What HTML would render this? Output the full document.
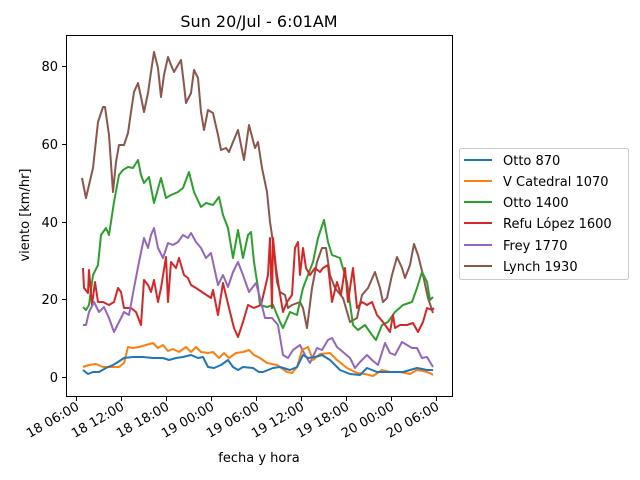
<!DOCTYPE html>
<html><head><meta charset="utf-8"><style>body{margin:0;background:#fff}svg{display:block;font-family:"DejaVu Sans","Liberation Sans",sans-serif}</style></head><body>
<svg width="640" height="480" viewBox="0 0 640 480" xmlns="http://www.w3.org/2000/svg">
<rect width="640" height="480" fill="#fff"/>
<text x="259" y="27" font-size="16" text-anchor="middle">Sun 20/Jul - 6:01AM</text>
<g fill="none" stroke-width="2" stroke-linejoin="round">
<polyline stroke="#8c564b" points="82,178 86,198 89,185 93,168 98,122 103,107 105,107 109,135 113,192 116,162 119,145 124,145 128,133 131,112 134,92 138,83 141,97 144,112 148,93 151,72 154,52 158,68 161,97 164,75 168,57 171,65 174,72 178,65 181,60 184,85 186,103 191,93 194,70 198,78 201,112 204,130 208,110 213,113 218,135 221,150 226,148 229,152 233,142 238,130 241,145 244,160 249,125 255,148 258,142 262,168 267,192 270,222 273,242 277,282 280,292 285,295 288,308 292,305 300,302 303,308 307,328 312,288 317,262 322,248 326,248 330,275 335,288 343,298 350,322 357,318 362,295 368,288 375,272 380,288 383,302 387,298 392,275 397,257 402,268 405,278 410,265 414,244 418,255 423,275 428,298 433,313"/>
<polyline stroke="#2ca02c" points="83,307 86,310 89,305 93,275 98,265 101,235 106,228 109,235 114,202 119,175 123,170 128,167 133,168 138,160 141,175 144,183 149,177 154,203 161,178 166,198 171,195 178,192 183,188 189,172 194,192 201,207 206,203 213,205 219,197 223,215 228,228 233,258 238,230 243,258 248,235 251,232 254,262 258,288 260,305 267,307 273,305 280,322 283,328 290,312 297,315 303,288 313,262 318,238 324,220 328,242 332,255 340,258 347,282 353,325 358,330 365,325 372,335 376,340 382,325 388,322 395,312 403,305 412,302 417,288 422,272 427,282 430,300 433,297"/>
<polyline stroke="#d62728" points="83,268 84,288 88,293 89,270 92,305 95,282 98,302 103,302 109,305 114,302 118,288 121,292 124,308 131,308 136,312 141,325 144,280 148,285 151,292 154,280 158,302 161,288 166,257 168,302 171,262 176,268 179,258 184,275 188,278 191,285 196,288 211,298 213,290 218,315 223,283 229,308 234,328 238,337 243,322 248,305 254,308 261,305 265,288 268,275 270,238 272,308 273,238 276,268 279,288 283,312 287,302 292,295 295,248 298,242 300,275 303,248 306,268 310,275 315,268 320,272 323,268 328,265 332,302 337,282 341,295 345,268 348,302 353,268 357,308 362,302 367,305 372,302 377,315 383,322 390,332 393,315 395,328 400,325 407,325 413,323 418,332 423,322 427,308 432,310 434,308"/>
<polyline stroke="#9467bd" points="83,325 86,325 89,312 94,302 99,312 104,307 109,318 114,332 119,322 124,312 129,315 134,288 139,262 144,238 148,248 151,235 154,228 158,248 163,258 168,243 173,245 178,242 183,235 188,238 191,233 196,242 201,248 206,258 211,253 218,285 223,275 228,287 233,272 238,262 243,275 249,292 256,283 260,298 265,318 272,318 278,325 283,355 288,358 293,350 300,345 305,355 310,363 317,348 322,350 328,340 332,338 337,347 343,352 350,358 355,368 360,362 367,355 372,360 378,365 385,343 390,353 395,355 402,342 407,345 412,348 417,348 422,358 427,357 433,367"/>
<polyline stroke="#ff7f0e" points="83,367 89,365 96,364 103,367 109,367 119,367 124,363 128,347 133,348 139,347 146,345 153,343 158,348 163,345 168,351 173,349 179,352 186,347 191,352 196,347 201,352 208,353 213,352 219,358 224,353 229,358 236,353 243,352 249,350 254,355 260,358 267,363 277,365 287,372 292,373 297,367 302,350 308,347 313,360 320,354 330,353 337,360 347,368 357,373 365,374 373,376 382,370 390,372 400,372 410,374 417,370 423,371 430,373 433,375"/>
<polyline stroke="#1f77b4" points="83,370 88,374 93,372 99,372 106,368 113,365 118,362 124,358 133,357 143,357 153,358 163,358 169,360 176,358 183,357 191,355 198,358 203,357 208,367 214,368 221,365 228,360 233,367 238,370 243,367 253,368 259,372 263,372 273,368 280,367 290,370 297,367 303,355 308,358 315,357 322,355 330,360 340,370 350,374 360,375 367,368 377,372 390,372 403,372 417,368 427,370 433,370"/>
</g>
<rect x="66.5" y="35.5" width="386" height="361" fill="none" stroke="#000" stroke-width="1"/>
<g stroke="#000" stroke-width="1">
<line x1="62" y1="377.5" x2="66" y2="377.5"/><line x1="62" y1="299.5" x2="66" y2="299.5"/><line x1="62" y1="222.5" x2="66" y2="222.5"/><line x1="62" y1="144.5" x2="66" y2="144.5"/><line x1="62" y1="66.5" x2="66" y2="66.5"/>
<line x1="76.5" y1="397" x2="76.5" y2="401"/><line x1="121.5" y1="397" x2="121.5" y2="401"/><line x1="166.5" y1="397" x2="166.5" y2="401"/><line x1="211.5" y1="397" x2="211.5" y2="401"/><line x1="256.5" y1="397" x2="256.5" y2="401"/><line x1="301.5" y1="397" x2="301.5" y2="401"/><line x1="346.5" y1="397" x2="346.5" y2="401"/><line x1="391.5" y1="397" x2="391.5" y2="401"/><line x1="436.5" y1="397" x2="436.5" y2="401"/>
</g>
<g font-size="13" text-anchor="end">
<text x="58" y="382">0</text><text x="58" y="304">20</text><text x="58" y="227">40</text><text x="58" y="149">60</text><text x="58" y="71">80</text>
</g>
<g font-size="13" text-anchor="end">
<text transform="translate(80,409) rotate(-30)">18 06:00</text>
<text transform="translate(125,409) rotate(-30)">18 12:00</text>
<text transform="translate(170,409) rotate(-30)">18 18:00</text>
<text transform="translate(215,409) rotate(-30)">19 00:00</text>
<text transform="translate(260,409) rotate(-30)">19 06:00</text>
<text transform="translate(305,409) rotate(-30)">19 12:00</text>
<text transform="translate(350,409) rotate(-30)">19 18:00</text>
<text transform="translate(395,409) rotate(-30)">20 00:00</text>
<text transform="translate(440,409) rotate(-30)">20 06:00</text>
</g>
<text x="259" y="462" font-size="13" text-anchor="middle">fecha y hora</text>
<text transform="translate(29,215) rotate(-90)" font-size="13" text-anchor="middle">viento [km/hr]</text>
<rect x="459.5" y="148.5" width="169" height="131" rx="2" fill="#fff" stroke="#ccc"/>
<g stroke-width="2">
<line x1="464" y1="160" x2="492" y2="160" stroke="#1f77b4"/>
<line x1="464" y1="181" x2="492" y2="181" stroke="#ff7f0e"/>
<line x1="464" y1="202" x2="492" y2="202" stroke="#2ca02c"/>
<line x1="464" y1="223" x2="492" y2="223" stroke="#d62728"/>
<line x1="464" y1="245" x2="492" y2="245" stroke="#9467bd"/>
<line x1="464" y1="266" x2="492" y2="266" stroke="#8c564b"/>
</g>
<g font-size="13">
<text x="503" y="165">Otto 870</text>
<text x="503" y="186">V Catedral 1070</text>
<text x="503" y="207">Otto 1400</text>
<text x="503" y="228">Refu López 1600</text>
<text x="503" y="250">Frey 1770</text>
<text x="503" y="271">Lynch 1930</text>
</g>
</svg>
</body></html>
